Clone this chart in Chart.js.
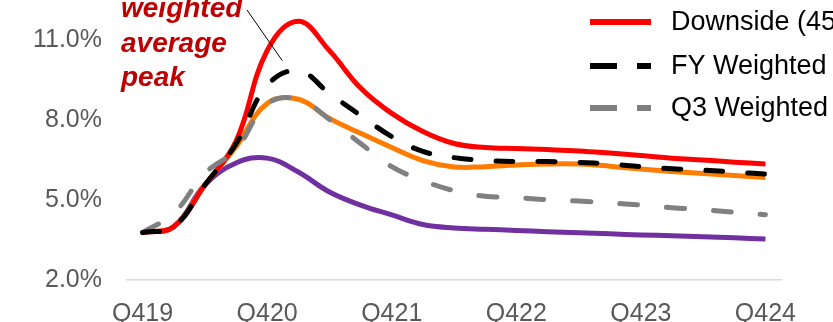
<!DOCTYPE html>
<html>
<head>
<meta charset="utf-8">
<script src="https://cdn.jsdelivr.net/npm/chart.js@4/dist/chart.umd.min.js"></script>
<style>
  html, body { margin: 0; padding: 0; background: #ffffff; overflow: hidden; }
  canvas { display: block; }
</style>
</head>
<body>
<canvas id="chart" width="833" height="322"></canvas>
<script>
// Quarterly categories, Q4 2019 through Q4 2024
const quarters = ['Q419', 'Q120', 'Q220', 'Q320', 'Q420', 'Q121', 'Q221', 'Q321', 'Q421',
  'Q122', 'Q222', 'Q322', 'Q422', 'Q123', 'Q223', 'Q323', 'Q423', 'Q124', 'Q224', 'Q324', 'Q424'];

// Series values (%)
const downside   = [3.78, 4.0, 5.56, 7.2, 10.6, 11.7, 10.6, 9.2, 8.25, 7.57, 7.12, 6.97, 6.93, 6.89, 6.84, 6.76, 6.67, 6.57, 6.50, 6.42, 6.35];
const fyWeighted = [3.78, 4.0, 5.56, 7.1, 9.3, 9.85, 9.0, 8.17, 7.38, 6.82, 6.59, 6.48, 6.44, 6.44, 6.41, 6.35, 6.25, 6.17, 6.12, 6.05, 5.97];
const q3Weighted = [3.78, 4.5, 6.0, 6.9, 8.6, 8.78, 8.02, 7.12, 6.25, 5.73, 5.35, 5.14, 5.09, 5.01, 4.96, 4.89, 4.81, 4.71, 4.64, 4.54, 4.45];
const baseCase   = [3.78, 4.0, 5.56, 7.0, 8.62, 8.78, 8.06, 7.50, 6.97, 6.48, 6.24, 6.25, 6.31, 6.35, 6.35, 6.27, 6.16, 6.07, 5.99, 5.92, 5.84];
const upside     = [3.78, 4.0, 5.56, 6.39, 6.57, 6.05, 5.3, 4.81, 4.44, 4.08, 3.95, 3.90, 3.86, 3.81, 3.77, 3.73, 3.69, 3.66, 3.62, 3.58, 3.54];

// Axis ticks
const yTicks = [2, 5, 8, 11];
const labelEvery = 4;

// Series names
const seriesNames = ['Downside (45%)', 'FY Weighted average', 'Q3 Weighted average', 'Base case', 'Upside'];
const legendCount = 3;

// Callout text
const calloutLines = ['weighted', 'average', 'peak'];

const FONT = '"Liberation Sans", Arial, Helvetica, sans-serif';

function line(label, data, color, order, dash) {
  return {
    label, data, order,
    borderColor: color,
    backgroundColor: color,
    borderWidth: 5,
    borderDash: dash || [],
    borderCapStyle: dash ? 'round' : 'butt',
    borderJoinStyle: 'round',
    pointRadius: 0,
    pointHoverRadius: 0,
    fill: false,
    tension: 0.4,
    clip: false
  };
}

// Legend drawn at the top right, with line samples
const sideLegend = {
  id: 'sideLegend',
  afterDraw(chart) {
    const ctx = chart.ctx;
    ctx.save();
    ctx.font = '27px ' + FONT;
    ctx.textBaseline = 'middle';
    ctx.textAlign = 'left';
    const rows = [22, 66, 108];
    chart.data.datasets.slice(0, legendCount).forEach((ds, i) => {
      const y = rows[i];
      ctx.strokeStyle = ds.borderColor;
      ctx.lineWidth = 6;
      ctx.lineCap = 'butt';
      ctx.setLineDash(ds.borderDash.length ? [27, 20] : []);
      ctx.beginPath();
      ctx.moveTo(590, y);
      ctx.lineTo(651, y);
      ctx.stroke();
      ctx.setLineDash([]);
      ctx.fillStyle = '#000000';
      ctx.fillText(ds.label, 671, y + 1);
    });
    ctx.restore();
  }
};

// Callout pointing at the FY weighted peak
const peakCallout = {
  id: 'peakCallout',
  afterDraw(chart) {
    const ctx = chart.ctx;
    const meta = chart.getDatasetMeta(1);
    const peakIdx = fyWeighted.indexOf(Math.max(...fyWeighted));
    const pt = meta.data[peakIdx];
    ctx.save();
    ctx.font = 'italic bold 28px ' + FONT;
    ctx.fillStyle = '#C00000';
    ctx.textBaseline = 'alphabetic';
    ctx.textAlign = 'left';
    const baselines = [17, 52, 86];
    calloutLines.forEach((t, i) => ctx.fillText(t, 121, baselines[i]));
    ctx.strokeStyle = '#000000';
    ctx.lineWidth = 1;
    ctx.beginPath();
    ctx.moveTo(247, 10);
    ctx.lineTo(pt.x - 16, pt.y - 10);
    ctx.stroke();
    ctx.restore();
  }
};

new Chart(document.getElementById('chart'), {
  type: 'line',
  data: {
    labels: quarters,
    datasets: [
      line(seriesNames[0], downside, '#FF0000', 2),
      line(seriesNames[1], fyWeighted, '#000000', 0, [17, 25]),
      line(seriesNames[2], q3Weighted, '#808080', 1, [18, 29]),
      line(seriesNames[3], baseCase, '#FF7C00', 3),
      line(seriesNames[4], upside, '#7030A0', 4)
    ]
  },
  options: {
    responsive: false,
    animation: false,
    devicePixelRatio: 1,
    layout: { padding: { top: 16, right: 52, left: 0, bottom: 0 } },
    plugins: {
      legend: { display: false },
      tooltip: { enabled: false },
      title: { display: false }
    },
    scales: {
      x: {
        type: 'category',
        offset: true,
        grid: { display: false, drawTicks: false },
        border: { display: true, color: '#D9D9D9', width: 1.5 },
        ticks: {
          autoSkip: false,
          maxRotation: 0,
          padding: 19,
          color: '#595959',
          font: { family: FONT, size: 25 },
          callback: function (val, idx) {
            return idx % labelEvery === 0 ? this.getLabelForValue(val) : '';
          }
        },
        afterFit(scale) {
          scale.height = 42;
          scale.paddingLeft = 0;
          scale.paddingRight = 0;
        }
      },
      y: {
        min: 2,
        max: 11.9,
        grid: { display: false, drawTicks: false },
        border: { display: false },
        ticks: {
          padding: 25,
          color: '#595959',
          font: { family: FONT, size: 25 },
          callback: v => v.toFixed(1) + '%'
        },
        afterBuildTicks(scale) { scale.ticks = yTicks.map(v => ({ value: v })); },
        afterFit(scale) {
          scale.width = 127;
          scale.paddingTop = 0;
          scale.paddingBottom = 0;
        }
      }
    }
  },
  plugins: [sideLegend, peakCallout]
});
</script>
</body>
</html>
